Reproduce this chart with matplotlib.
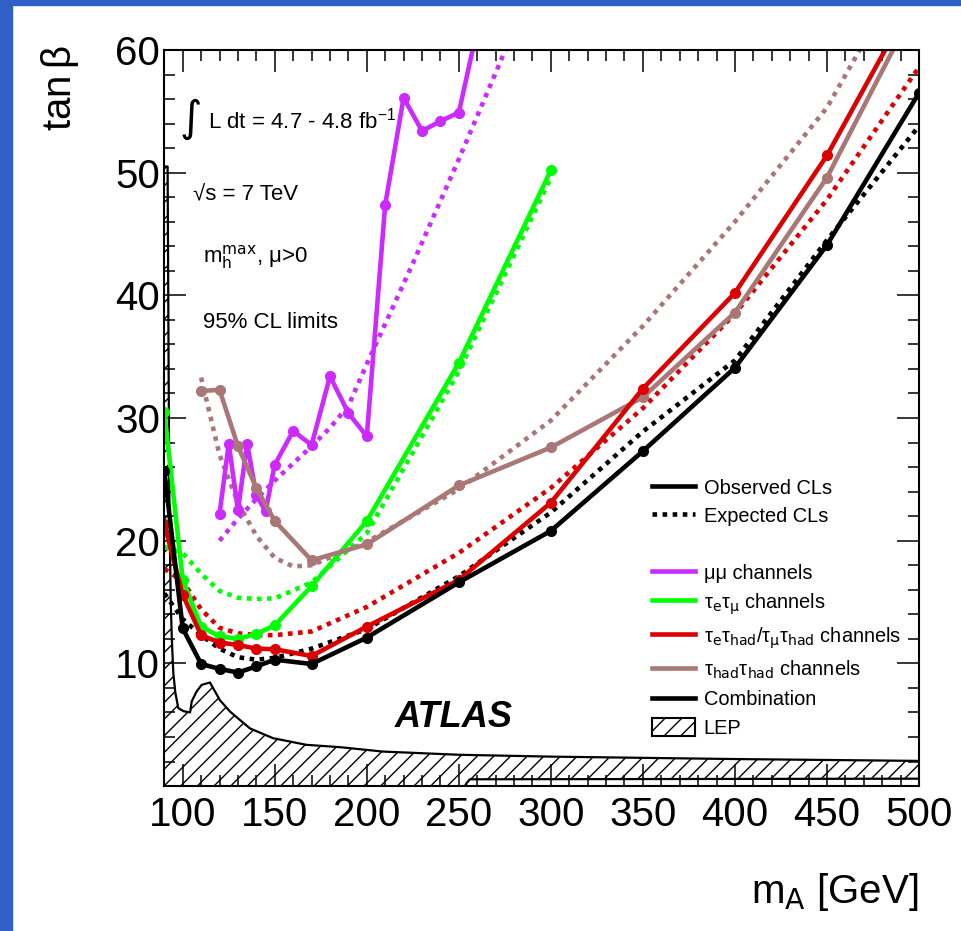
import numpy as np
import matplotlib
matplotlib.use("Agg")
import matplotlib.pyplot as plt
from matplotlib.lines import Line2D
from matplotlib.patches import Patch, Polygon, Rectangle

plt.rcParams['font.family'] = ['Liberation Sans', 'DejaVu Sans']
plt.rcParams['mathtext.default'] = 'regular'
plt.rcParams['hatch.linewidth'] = 1.0

# mass points (GeV)
mass = [90, 100, 110, 120, 130, 140, 150, 170, 200, 250, 300, 350, 400, 450, 500]

# combination
comb_obs = [25.7, 12.85, 9.95, 9.55, 9.25, 9.75, 10.3, 9.95, 12.1, 16.6, 20.8, 27.3, 34.1, 44.1, 56.5]
comb_exp = [15.7, 13.6, 12.3, 11.2, 10.5, 10.3, 10.45, 11.2, 12.8, 17.1, 22.3, 28.9, 34.7, 44.5, 53.8]

# tau_e tau_mu
emu_mass = [90, 100, 110, 120, 130, 140, 150, 170, 200, 250, 300]
emu_obs = [30.5, 16.8, 13.0, 12.2, 12.0, 12.4, 13.1, 16.3, 21.6, 34.5, 50.2]
emu_exp = [19.5, 19.0, 17.3, 15.9, 15.35, 15.25, 15.3, 16.6, 20.6, 33.8, 49.6]

# tau_lep tau_had
lh_obs = [21.35, 15.6, 12.3, 11.7, 11.5, 11.2, 11.15, 10.6, 13.0, 16.8, 23.1, 32.4, 40.2, 51.4, 65.0]
lh_exp = [17.7, 16.7, 14.4, 12.9, 12.45, 12.3, 12.3, 12.6, 14.6, 19.0, 24.3, 30.8, 38.5, 47.8, 58.6]

# tau_had tau_had
hh_mass = [110, 120, 130, 140, 150, 170, 200, 250, 300, 350, 400, 450, 500]
hh_obs = [32.2, 32.3, 27.7, 24.3, 21.6, 18.4, 19.7, 24.5, 27.6, 31.7, 38.6, 49.6, 64.1]
hh_exp_mass = [110, 120, 130, 140, 150, 160, 170, 200, 250, 300, 350, 400, 450, 500]
hh_exp = [33.3, 27.0, 23.1, 20.4, 18.6, 17.9, 18.0, 19.9, 24.2, 29.8, 37.5, 46.0, 55.3, 68.5]

# mu mu
mm_mass = [120, 125, 130, 135, 140, 145, 150, 160, 170, 180, 190, 200, 210, 220, 230, 240, 250, 260]
mm_obs = [22.2, 27.9, 22.5, 27.9, 23.7, 22.4, 26.2, 28.95, 27.8, 33.4, 30.4, 28.5, 47.4, 56.1, 53.4, 54.2, 54.9, 61.7]
mm_exp_mass = [120, 130, 140, 150, 160, 170, 180, 190, 200, 225, 250, 275, 280]
mm_exp = [20.0, 21.8, 23.4, 24.9, 26.3, 27.7, 29.2, 31.0, 34.4, 42.6, 51.1, 59.9, 61.6]

# LEP excluded region boundary
lep_x = [90, 90, 91.8, 92.3, 92.8, 93.5, 94.1, 94.9, 96.0, 97.6, 100.5, 104.0, 104.9, 107.5,
         110.3, 114.8, 120.2, 125.7, 136.5, 149.1, 167.2, 185.3, 208.8, 250, 299.1, 400, 500,
         500, 256, 254, 254]
lep_y = [0, 50.5, 50.5, 35.0, 22.0, 15.0, 11.9, 9.2, 7.6, 6.35, 6.1, 6.0, 6.9, 7.7,
         8.25, 8.44, 7.0, 6.07, 4.7, 3.9, 3.36, 3.17, 2.81, 2.55, 2.4, 2.2, 2.05,
         0.6, 0.55, 0.2, 0]

c_mm = '#CC2AFF'
c_emu = '#00FF00'
c_lh = '#DD0000'
c_hh = '#AA7777'

lw = 3.3
dots = (0, (1, 1.2))

fig = plt.figure(figsize=(9.62, 9.31), dpi=100)
ax = fig.add_axes([0.1708, 0.1557, 0.7845, 0.7906])

# LEP
lep = Polygon(list(zip(lep_x, lep_y)), closed=True, facecolor='white',
              edgecolor='black', hatch='//', lw=0, zorder=1)
ax.add_patch(lep)
ax.plot(lep_x[1:27], lep_y[1:27], color='black', lw=1.6, zorder=2)
ax.plot(lep_x[27:31], lep_y[27:31], color='black', lw=1.6, zorder=2)

# expected (dotted)
ax.plot(mm_exp_mass, mm_exp, color=c_mm, lw=lw, ls=dots, zorder=3)
ax.plot(emu_mass, emu_exp, color=c_emu, lw=lw, ls=dots, zorder=3)
ax.plot(mass, lh_exp, color=c_lh, lw=lw, ls=dots, zorder=3)
ax.plot(hh_exp_mass, hh_exp, color=c_hh, lw=lw, ls=dots, zorder=3)
ax.plot(mass, comb_exp, color='black', lw=lw, ls=dots, zorder=3)

# observed (solid with markers)
ms = 7
ax.plot(mm_mass, mm_obs, color=c_mm, lw=lw, marker='o', ms=ms, zorder=4)
ax.plot(emu_mass, emu_obs, color=c_emu, lw=lw, marker='o', ms=ms, zorder=4)
ax.plot(hh_mass, hh_obs, color=c_hh, lw=lw, marker='o', ms=ms, zorder=4)
ax.plot(mass, lh_obs, color=c_lh, lw=lw, marker='o', ms=ms, zorder=4)
ax.plot(mass, comb_obs, color='black', lw=lw, marker='o', ms=ms, zorder=5)

ax.set_xlim(90, 500)
ax.set_ylim(0, 60)
ax.set_xticks(np.arange(100, 501, 50))
ax.set_xticks(np.arange(90, 501, 10), minor=True)
ax.set_yticks(np.arange(10, 61, 10))
ax.set_yticks(np.arange(0, 61, 2), minor=True)
ax.tick_params(which='both', direction='in', top=True, right=True, width=1.1, labelsize=29)
ax.tick_params(which='major', length=16)
ax.tick_params(which='minor', length=8)
ax.tick_params(axis='x', pad=7)
ax.tick_params(axis='y', pad=3)
for s in ax.spines.values():
    s.set_linewidth(1.5)
    s.set_zorder(10)

# annotations
ax.text(0.020, 0.906, '∫', transform=ax.transAxes, fontsize=31, va='center', ha='left',
        family=['DejaVu Sans'])
ax.text(0.058, 0.894, r'L dt = 4.7 - 4.8 fb$^{-1}$', transform=ax.transAxes, fontsize=16,
        va='baseline')
ax.text(0.038, 0.796, '√s = 7 TeV', transform=ax.transAxes, fontsize=16, va='baseline')
ax.text(0.0513, 0.712, r'm$_\mathrm{h}^\mathrm{max}$, μ>0', transform=ax.transAxes, fontsize=16,
        va='baseline')
ax.text(0.0513, 0.622, '95% CL limits', transform=ax.transAxes, fontsize=16, va='baseline')
ax.text(0.3057, 0.0802, 'ATLAS', transform=ax.transAxes, fontsize=26, fontweight='bold',
        fontstyle='italic', va='baseline')

# legend
handles = [
    Line2D([], [], color='black', lw=lw),
    Line2D([], [], color='black', lw=lw, ls=dots),
    Line2D([], [], color='none'),
    Line2D([], [], color=c_mm, lw=lw),
    Line2D([], [], color=c_emu, lw=lw),
    Line2D([], [], color=c_lh, lw=lw),
    Line2D([], [], color=c_hh, lw=lw),
    Line2D([], [], color='black', lw=lw),
    Patch(facecolor='white', edgecolor='black', hatch='//', lw=1.5),
]
labels = [
    'Observed CLs',
    'Expected CLs',
    ' ',
    'μμ channels',
    r'τ$_\mathrm{e}$τ$_\mathrm{μ}$ channels',
    r'τ$_\mathrm{e}$τ$_\mathrm{had}$/τ$_\mathrm{μ}$τ$_\mathrm{had}$ channels',
    r'τ$_\mathrm{had}$τ$_\mathrm{had}$ channels',
    'Combination',
    'LEP',
]
ax.legend(handles, labels, loc='upper left', bbox_to_anchor=(0.646, 0.418), frameon=False,
          fontsize=14.4, handlelength=2.15, handleheight=1.0, handletextpad=0.45,
          labelspacing=0.42, borderpad=0, borderaxespad=0)

# axis titles
fig.text(60 / 962, 1 - 45 / 931, r'tan$\,$β', rotation=90, fontsize=29, ha='center', va='top')
fig.text(918 / 962, 1 - 903 / 931, r'm$_\mathrm{A}$ [GeV]', fontsize=29, ha='right', va='baseline')

# blue frame
blue = '#315FC8'
fig.patches.append(Rectangle((0, 0), 12 / 962, 1, transform=fig.transFigure, color=blue, zorder=0))
fig.patches.append(Rectangle((0, 1 - 5 / 931), 1, 5 / 931, transform=fig.transFigure, color=blue, zorder=0))

fig.savefig('out.png', dpi=100)
